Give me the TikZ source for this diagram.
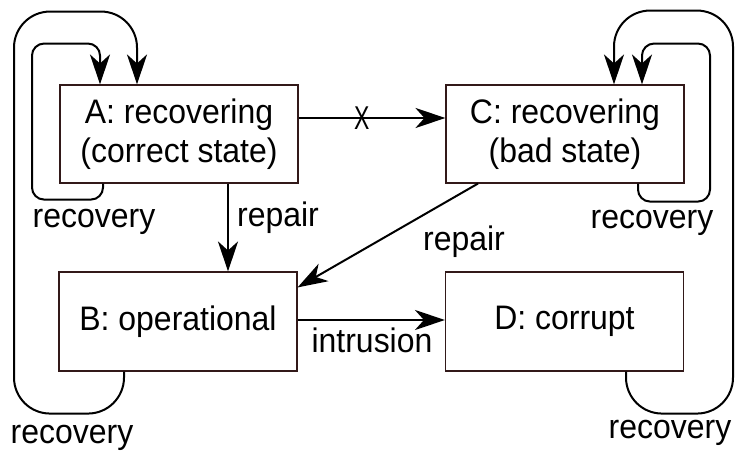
\documentclass[tikz,border=0pt]{standalone}
\usepackage{fontspec}
\setmainfont{Liberation Sans}[FakeStretch=0.94]
\usetikzlibrary{arrows.meta}
\definecolor{boxc}{RGB}{50,25,25}
\begin{document}
\begin{tikzpicture}[x=1pt,y=-1pt,
  box/.style={draw=boxc, line width=1.1pt, minimum width=238pt, minimum height=98pt, inner sep=0pt, align=center, font=\fontsize{34}{39}\selectfont},
  lbl/.style={anchor=base, inner sep=0pt, font=\fontsize{34}{39}\selectfont},
  conn/.style={line width=2pt, -{Stealth[length=30pt,width=20pt,inset=9pt]}},
  loopline/.style={conn, rounded corners=#1},
  loopline/.default=12pt
]
\useasboundingbox (0,0) rectangle (737,452);
\node[box] (A) at (179,134) {A: recovering\\(correct state)};
\node[box] (C) at (565,134) {C: recovering\\(bad state)};
\node[box, minimum height=99pt] (B) at (178,321.5) {B: operational};
\node[box, minimum height=99pt] (D) at (564.5,321.5) {D: corrupt};

% straight connectors
\draw[conn] ([yshift=16pt]A.east) -- node[lbl, pos=0.43, anchor=center] (x) {\scalebox{0.72}[0.97]{X}} ([yshift=16pt]C.west);
\draw[conn] ([xshift=49pt]A.south) -- ([xshift=50pt]B.north);
\draw[conn] ([xshift=-87pt]C.south) -- ([yshift=-16pt]B.north east);
\draw[conn] ([yshift=1.5pt]B.east) -- ([yshift=1.5pt]D.west);

% self loops
\draw[loopline=12pt] ([xshift=-76pt]A.south) -- ++(0,16) -- ++(-71,0) -- ++(0,-156) -- ++(68,0) -- ([xshift=-79pt]A.north);
\draw[loopline=36pt] ([xshift=-54pt]B.south) -- ++(0,42) -- ++(-110,0) -- ++(0,-402) -- ++(123,0) -- ([xshift=-42pt]A.north);
\draw[loopline=12pt] ([xshift=73pt]C.south) -- ++(0,18) -- ++(72,0) -- ++(0,-158) -- ++(-68,0) -- ([xshift=77pt]C.north);
\draw[loopline=36pt] ([xshift=61.5pt]D.south) -- ++(0,42) -- ++(107,0) -- ++(0,-403) -- ++(-119,0) -- ([xshift=49pt]C.north);

% labels
\node[lbl] (l1) at (94,227) {recovery};
\node[lbl] (l2) at (278,226) {repair};
\node[lbl] (l3) at (464,250) {repair};
\node[lbl] (l4) at (652,228) {recovery};
\node[lbl] (l5) at (372,352) {intrusion};
\node[lbl] (l6) at (72,443) {recovery};
\node[lbl] (l7) at (670,438) {recovery};
\end{tikzpicture}
\end{document}
